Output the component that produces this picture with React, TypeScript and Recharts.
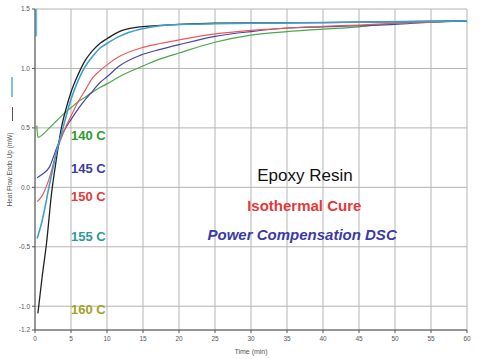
import React from "react";
import { LineChart, Line, XAxis, YAxis, CartesianGrid, ReferenceDot } from "recharts";

const xTicks = [0, 5, 10, 15, 20, 25, 30, 35, 40, 45, 50, 55, 60];
const yTicks = [-1.2, -1.0, -0.5, 0, 0.5, 1.0, 1.5];

const c140 = [
  { t: 0.25, v: 0.52 }, { t: 0.4, v: 0.42 }, { t: 1, v: 0.44 }, { t: 2, v: 0.5 },
  { t: 3, v: 0.56 }, { t: 4, v: 0.62 }, { t: 5, v: 0.67 }, { t: 6, v: 0.72 },
  { t: 7, v: 0.76 }, { t: 8, v: 0.8 }, { t: 9, v: 0.84 }, { t: 10, v: 0.87 },
  { t: 12, v: 0.94 }, { t: 14.6, v: 1.01 }, { t: 17.4, v: 1.08 }, { t: 20, v: 1.13 },
  { t: 25, v: 1.22 }, { t: 30, v: 1.28 }, { t: 35, v: 1.31 }, { t: 40, v: 1.33 },
  { t: 45, v: 1.35 }, { t: 50, v: 1.38 }, { t: 55, v: 1.39 }, { t: 60, v: 1.4 },
];
const c145 = [
  { t: 0.3, v: 0.08 }, { t: 1, v: 0.11 }, { t: 2, v: 0.17 }, { t: 3, v: 0.33 },
  { t: 4, v: 0.47 }, { t: 5, v: 0.57 }, { t: 6, v: 0.66 }, { t: 7, v: 0.74 },
  { t: 8, v: 0.81 }, { t: 9, v: 0.88 }, { t: 10, v: 0.93 }, { t: 11.7, v: 1.02 },
  { t: 14.6, v: 1.11 }, { t: 17.4, v: 1.16 }, { t: 20, v: 1.2 }, { t: 25, v: 1.27 },
  { t: 30, v: 1.31 }, { t: 35, v: 1.34 }, { t: 40, v: 1.35 }, { t: 45, v: 1.36 },
  { t: 50, v: 1.37 }, { t: 55, v: 1.39 }, { t: 60, v: 1.4 },
];
const c150 = [
  { t: 0.3, v: -0.12 }, { t: 1, v: -0.07 }, { t: 2, v: 0.08 }, { t: 3, v: 0.3 },
  { t: 4, v: 0.47 }, { t: 5, v: 0.6 }, { t: 6, v: 0.72 }, { t: 7, v: 0.82 },
  { t: 8, v: 0.92 }, { t: 9, v: 0.98 }, { t: 10, v: 1.03 }, { t: 11.7, v: 1.1 },
  { t: 14.6, v: 1.17 }, { t: 17.4, v: 1.21 }, { t: 20, v: 1.24 }, { t: 25, v: 1.29 },
  { t: 30, v: 1.32 }, { t: 35, v: 1.34 }, { t: 40, v: 1.355 }, { t: 45, v: 1.365 },
  { t: 50, v: 1.38 }, { t: 55, v: 1.39 }, { t: 60, v: 1.4 },
];
const c155 = [
  { t: 0.3, v: -0.43 }, { t: 1, v: -0.28 }, { t: 2, v: 0.02 }, { t: 3, v: 0.3 },
  { t: 3.8, v: 0.48 }, { t: 5, v: 0.74 }, { t: 6, v: 0.9 }, { t: 7, v: 1.02 },
  { t: 8, v: 1.1 }, { t: 9, v: 1.17 }, { t: 10, v: 1.21 }, { t: 11.7, v: 1.27 },
  { t: 14.6, v: 1.33 }, { t: 20, v: 1.37 }, { t: 30, v: 1.38 }, { t: 45, v: 1.39 },
  { t: 60, v: 1.4 },
];
const c155Start = [{ t: 0.1, v: 1.5 }, { t: 0.1, v: 1.27 }];
const c160 = [
  { t: 0.4, v: -1.06 }, { t: 1, v: -0.75 }, { t: 1.6, v: -0.47 }, { t: 2.3, v: -0.05 },
  { t: 3, v: 0.25 }, { t: 3.6, v: 0.48 }, { t: 4.4, v: 0.68 }, { t: 5, v: 0.8 },
  { t: 6, v: 0.95 }, { t: 7, v: 1.07 }, { t: 8, v: 1.15 }, { t: 9, v: 1.21 },
  { t: 10, v: 1.25 }, { t: 11.7, v: 1.31 }, { t: 14.6, v: 1.35 }, { t: 20, v: 1.37 },
  { t: 25, v: 1.38 }, { t: 40, v: 1.385 }, { t: 60, v: 1.4 },
];

const tempLabels = [
  { text: "140 C", t: 7.4, v: 0.44, color: "#2f9a2f" },
  { text: "145 C", t: 7.4, v: 0.16, color: "#3b3ba6" },
  { text: "150 C", t: 7.4, v: -0.08, color: "#e23a3a" },
  { text: "155 C", t: 7.4, v: -0.41, color: "#2a9a9a" },
  { text: "160 C", t: 7.4, v: -1.03, color: "#a3a324" },
];
const titleLabels = [
  { text: "Epoxy Resin", t: 37.5, v: 0.1, color: "#111111", weight: "normal", style: "normal", size: 17 },
  { text: "Isothermal Cure", t: 37.4, v: -0.15, color: "#e23a3a", weight: "bold", style: "normal", size: 15 },
  { text: "Power Compensation DSC", t: 37.1, v: -0.4, color: "#3b3ba6", weight: "bold", style: "italic", size: 15 },
];

const FONT = "'Liberation Sans', Arial, sans-serif";

function makeLabel(text: string, color: string, size: number, weight: string, style: string) {
  return (props: any) => {
    const vb = props.viewBox || {};
    const cx = (vb.x ?? 0) + (vb.width ?? 0) / 2;
    const cy = (vb.y ?? 0) + (vb.height ?? 0) / 2;
    return (
      <text
        x={cx}
        y={cy}
        textAnchor="middle"
        dominantBaseline="central"
        fill={color}
        fontSize={size}
        fontWeight={weight}
        fontStyle={style}
        fontFamily={FONT}
      >
        {text}
      </text>
    );
  };
}

export default function App() {
  return (
    <div style={{ position: "absolute", left: 0, top: 0, width: 481, height: 359, background: "#fff" }}>
      <div style={{ position: "absolute", left: 11, top: 77, width: 2, height: 20, background: "#7cc4dc" }} />
      <div style={{ position: "absolute", left: 12, top: 107, width: 1, height: 14, background: "#555" }} />
      <LineChart width={481} height={359} margin={{ top: 9, right: 14, left: 0, bottom: 0 }}>
        <CartesianGrid stroke="#b4b4b4" strokeWidth={1} horizontalValues={yTicks} verticalValues={xTicks} />
        <XAxis
          type="number"
          dataKey="t"
          domain={[0, 60]}
          ticks={xTicks}
          allowDataOverflow
          height={29}
          stroke="#555"
          tickSize={3}
          tickMargin={3}
          tick={{ fontSize: 6.5, fill: "#555", fontFamily: FONT }}
          label={{ value: "Time (min)", position: "insideBottom", offset: 5, fontSize: 7, fill: "#555", fontFamily: FONT }}
        />
        <YAxis
          type="number"
          domain={[-1.2, 1.5]}
          ticks={yTicks}
          allowDataOverflow
          width={35}
          stroke="#555"
          tickSize={3}
          tickMargin={2}
          tickFormatter={(v: number) => v.toFixed(1)}
          tick={{ fontSize: 6.5, fill: "#555", fontFamily: FONT }}
          label={{ value: "Heat Flow Endo Up (mW)", angle: -90, position: "center", dx: -8, fontSize: 6.5, fill: "#555", fontFamily: FONT }}
        />
        <Line data={c140} dataKey="v" type="monotone" stroke="#4aa84a" strokeWidth={1.2} dot={false} isAnimationActive={false} />
        <Line data={c145} dataKey="v" type="monotone" stroke="#4646a8" strokeWidth={1.2} dot={false} isAnimationActive={false} />
        <Line data={c150} dataKey="v" type="monotone" stroke="#ec5a5a" strokeWidth={1.2} dot={false} isAnimationActive={false} />
        <Line data={c160} dataKey="v" type="monotone" stroke="#222222" strokeWidth={1.3} dot={false} isAnimationActive={false} />
        <Line data={c155} dataKey="v" type="monotone" stroke="#3d9fcc" strokeWidth={1.6} dot={false} isAnimationActive={false} />
        <Line data={c155Start} dataKey="v" type="linear" stroke="#6fbcd8" strokeWidth={3} dot={false} isAnimationActive={false} />
        {tempLabels.map((l) => (
          <ReferenceDot
            key={l.text}
            x={l.t}
            y={l.v}
            r={0}
            fill="none"
            stroke="none"
            label={makeLabel(l.text, l.color, 13, "bold", "normal")}
          />
        ))}
        {titleLabels.map((l) => (
          <ReferenceDot
            key={l.text}
            x={l.t}
            y={l.v}
            r={0}
            fill="none"
            stroke="none"
            label={makeLabel(l.text, l.color, l.size, l.weight, l.style)}
          />
        ))}
      </LineChart>
    </div>
  );
}
